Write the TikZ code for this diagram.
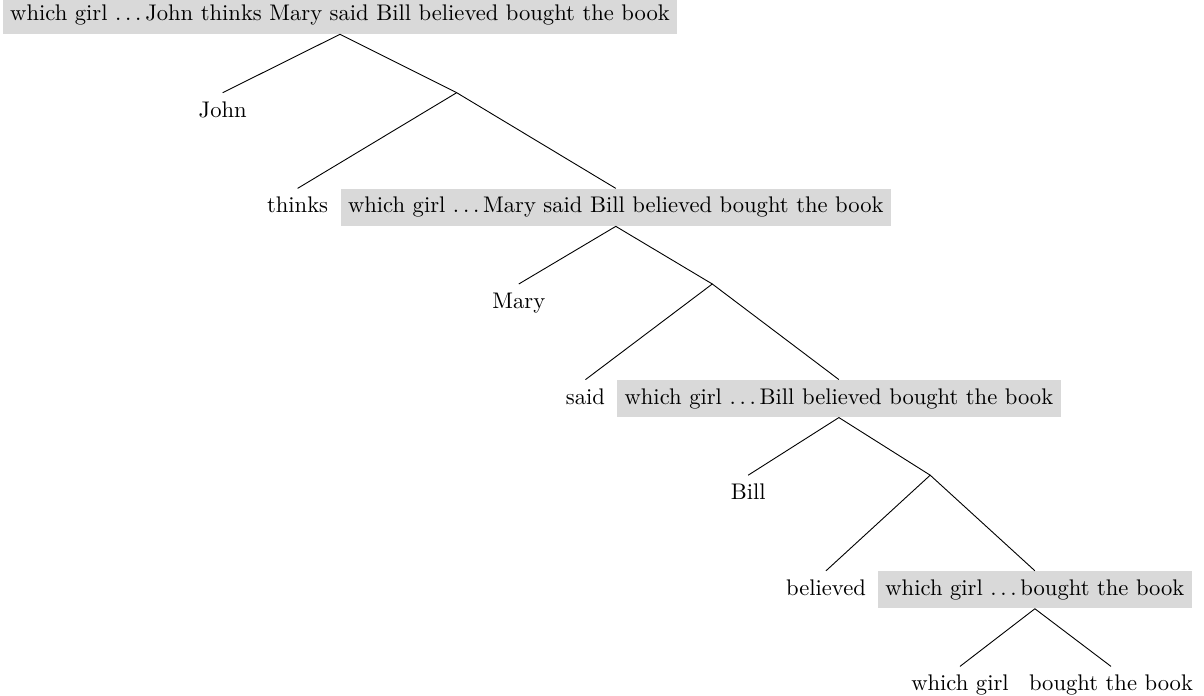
\documentclass[tikz,border=0pt]{standalone}
% spaced ellipsis as in classic TeX text mode
\newcommand\spdots{.\kern1.67pt.\kern1.67pt.\kern1.67pt}
\begin{document}
\begin{tikzpicture}[x=0.4425pt, y=-0.4425pt,
  every node/.style={inner xsep=3.33pt, inner ysep=3.7pt},
  cbox/.style={fill=black!15, anchor=north},
  leaf/.style={anchor=north},
  branch/.style={line width=0.4pt}]
\useasboundingbox (0,0) rectangle (1204,696);

% level 0
\node[cbox, anchor=south] (s0) at (340,34.3) {which girl \spdots John thinks Mary said Bill believed bought the book};
\node[leaf] (john) at (222.7,92.7) {John};
\coordinate (j1) at (456.7,92.7);

% level 1
\node[leaf] (thinks) at (297.6,188.4) {thinks};
\node[cbox] (s1) at (615.8,188.4) {which girl \spdots Mary said Bill believed bought the book};
\node[leaf] (mary) at (518.8,284) {Mary};
\coordinate (j2) at (712.3,284);

% level 2
\node[leaf] (said) at (585.5,379.6) {said};
\node[cbox] (s2) at (838.9,379.6) {which girl \spdots Bill believed bought the book};
\node[leaf] (bill) at (748.2,475.2) {Bill};
\coordinate (j3) at (930.2,475.2);

% level 3
\node[leaf] (believed) at (826,570.8) {believed};
\node[cbox] (s3) at (1034.9,570.8) {which girl \spdots bought the book};
\node[leaf] (wg) at (960,666.4) {which girl};
\node[leaf] (btb) at (1111,666.4) {bought the book};

% branches
\draw[branch] (john.north) -- (s0.south) -- (j1);
\draw[branch] (thinks.north) -- (j1) -- (s1.north);
\draw[branch] (mary.north) -- (s1.south) -- (j2);
\draw[branch] (said.north) -- (j2) -- (s2.north);
\draw[branch] (bill.north) -- (s2.south) -- (j3);
\draw[branch] (believed.north) -- (j3) -- (s3.north);
\draw[branch] (wg.north) -- (s3.south) -- (btb.north);
\end{tikzpicture}
\end{document}
